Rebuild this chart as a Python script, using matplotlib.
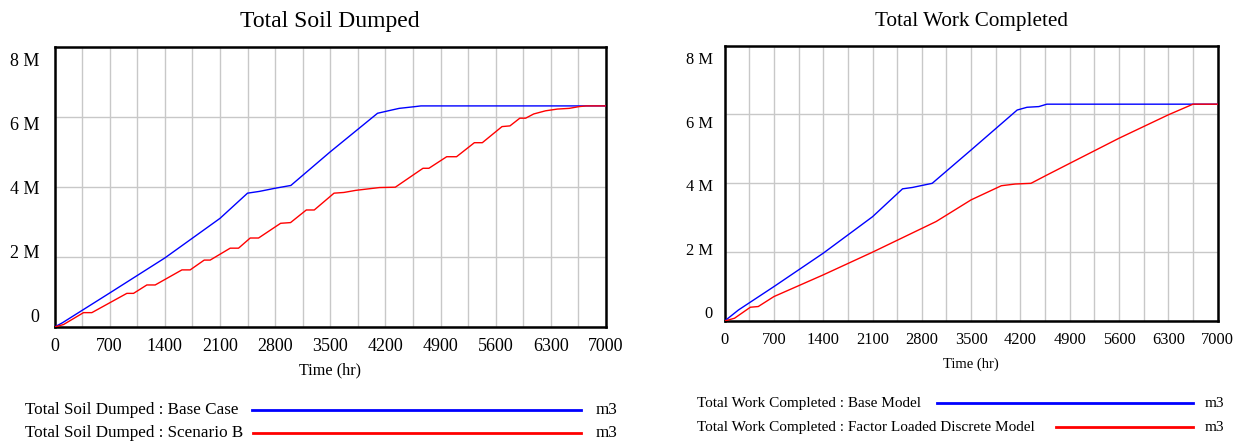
import matplotlib.pyplot as plt
import numpy as np
from matplotlib.lines import Line2D

plt.rcParams['font.family'] = ['Liberation Serif', 'DejaVu Serif']

# time in hours, values in millions of m3
soil_base_t = [0, 100, 700, 1400, 2100, 2450, 2600, 2800, 3000, 3500, 4100, 4275, 4375, 4577, 4650, 7000]
soil_base_v = [0, 0.12, 0.97, 1.97, 3.10, 3.82, 3.87, 3.96, 4.04, 5.00, 6.10, 6.19, 6.24, 6.29, 6.31, 6.31]

soil_b_t = [0, 114, 368, 474, 918, 1003, 1172, 1278, 1617, 1722, 1900, 1976, 2230, 2336,
            2484, 2590, 2870, 2996, 3196, 3297, 3548, 3673, 3824, 3974, 4125, 4326,
            4677, 4752, 4978, 5103, 5329, 5430, 5680, 5781, 5906, 5980, 6082, 6232,
            6383, 6533, 6659, 6750, 7000]
soil_b_v = [0, 0.07, 0.41, 0.41, 0.96, 0.96, 1.20, 1.20, 1.63, 1.63, 1.91, 1.91, 2.25, 2.25,
            2.54, 2.54, 2.96, 2.98, 3.34, 3.34, 3.82, 3.84, 3.90, 3.94, 3.98, 3.99,
            4.53, 4.53, 4.86, 4.86, 5.26, 5.26, 5.72, 5.74, 5.96, 5.96, 6.08, 6.17,
            6.22, 6.24, 6.29, 6.31, 6.31]

work_base_t = [0, 196, 700, 1400, 2100, 2526, 2666, 2947, 3500, 4154, 4294, 4462, 4575, 7000]
work_base_v = [0, 0.32, 1.00, 1.97, 3.03, 3.84, 3.88, 4.00, 4.97, 6.13, 6.21, 6.23, 6.30, 6.30]

work_disc_t = [0, 140, 365, 477, 700, 1400, 2100, 2800, 3003, 3500, 3929, 4126, 4350,
               4575, 4900, 5600, 6300, 6651, 7000]
work_disc_v = [0, 0.08, 0.40, 0.42, 0.71, 1.34, 2.00, 2.69, 2.89, 3.52, 3.93, 3.98, 4.00,
               4.24, 4.58, 5.31, 5.99, 6.30, 6.30]

x_ticks = np.arange(0, 7001, 700)
y_ticks = [0, 2, 4, 6, 8]
y_labels = ['0', '2 M', '4 M', '6 M', '8 M']

BLUE = '#0000ff'
RED = '#ff0000'
GRID = '#c8c8c8'


def draw_panel(ax, series, title, label_lo, label_hi, pad_y, fs_tick, fs_title, fs_xlab, xlab_pad):
    for t, v, c in series:
        ax.plot(t, v, color=c, lw=1.0, zorder=3)
    ax.set_xlim(0, 7000)
    ax.set_ylim(0, 8)

    ax.set_xticks(x_ticks)
    ax.set_xticks(np.arange(0, 7001, 350), minor=True)
    ax.set_xticklabels([str(x) for x in x_ticks])

    # Vensim squeezes the y labels toward the middle of the axis
    ax.set_yticks(y_ticks, minor=True)
    ax.set_yticks(np.linspace(label_lo, label_hi, len(y_ticks)))
    ax.set_yticklabels(y_labels)

    ax.grid(True, which='both', axis='x', color=GRID, lw=1.0, zorder=1)
    ax.grid(True, which='minor', axis='y', color=GRID, lw=1.0, zorder=1)
    ax.grid(False, which='major', axis='y')
    ax.tick_params(which='both', length=0, labelsize=fs_tick)
    ax.tick_params(axis='x', pad=8)
    ax.tick_params(axis='y', pad=pad_y)
    for s in ax.spines.values():
        s.set_linewidth(1.8)
        s.set_color('black')
    ax.set_title(title, fontsize=fs_title, pad=14)
    ax.set_xlabel('Time (hr)', fontsize=fs_xlab, labelpad=xlab_pad)


fig = plt.figure(figsize=(12.36, 4.46), dpi=100)
ax1 = fig.add_axes([0.0441, 0.2668, 0.4462, 0.6285])
ax2 = fig.add_axes([0.5863, 0.2803, 0.3988, 0.6173])

draw_panel(ax1, [(soil_base_t, soil_base_v, BLUE), (soil_b_t, soil_b_v, RED)],
           'Total Soil Dumped', 0.34, 7.63, 10.8, 13, 17, 11.7, 5.5)
draw_panel(ax2, [(work_base_t, work_base_v, BLUE), (work_disc_t, work_disc_v, RED)],
           'Total Work Completed', 0.26, 7.64, 8.4, 11.8, 15.2, 10.5, 7.0)

# legend rows: text x, line start, line end, unit x, y, font size
legend_rows = [
    ('Total Soil Dumped : Base Case', BLUE, 0.020, 0.2039, 0.470, 0.482, 0.0807, 12.3),
    ('Total Soil Dumped : Scenario B', RED, 0.020, 0.2047, 0.470, 0.482, 0.0291, 12.3),
    ('Total Work Completed : Base Model', BLUE, 0.564, 0.758, 0.965, 0.975, 0.0964, 11),
    ('Total Work Completed : Factor Loaded Discrete Model', RED, 0.564, 0.854, 0.965, 0.975, 0.0426, 11),
]
for label, c, tx, x0, x1, ux, y, fs in legend_rows:
    fig.text(tx, y, label, fontsize=fs, va='center', ha='left')
    fig.add_artist(Line2D([x0, x1], [y, y], color=c, lw=2.0, transform=fig.transFigure))
    fig.text(ux, y, 'm3', fontsize=fs, va='center', ha='left')

fig.savefig('out.png', dpi=100)
